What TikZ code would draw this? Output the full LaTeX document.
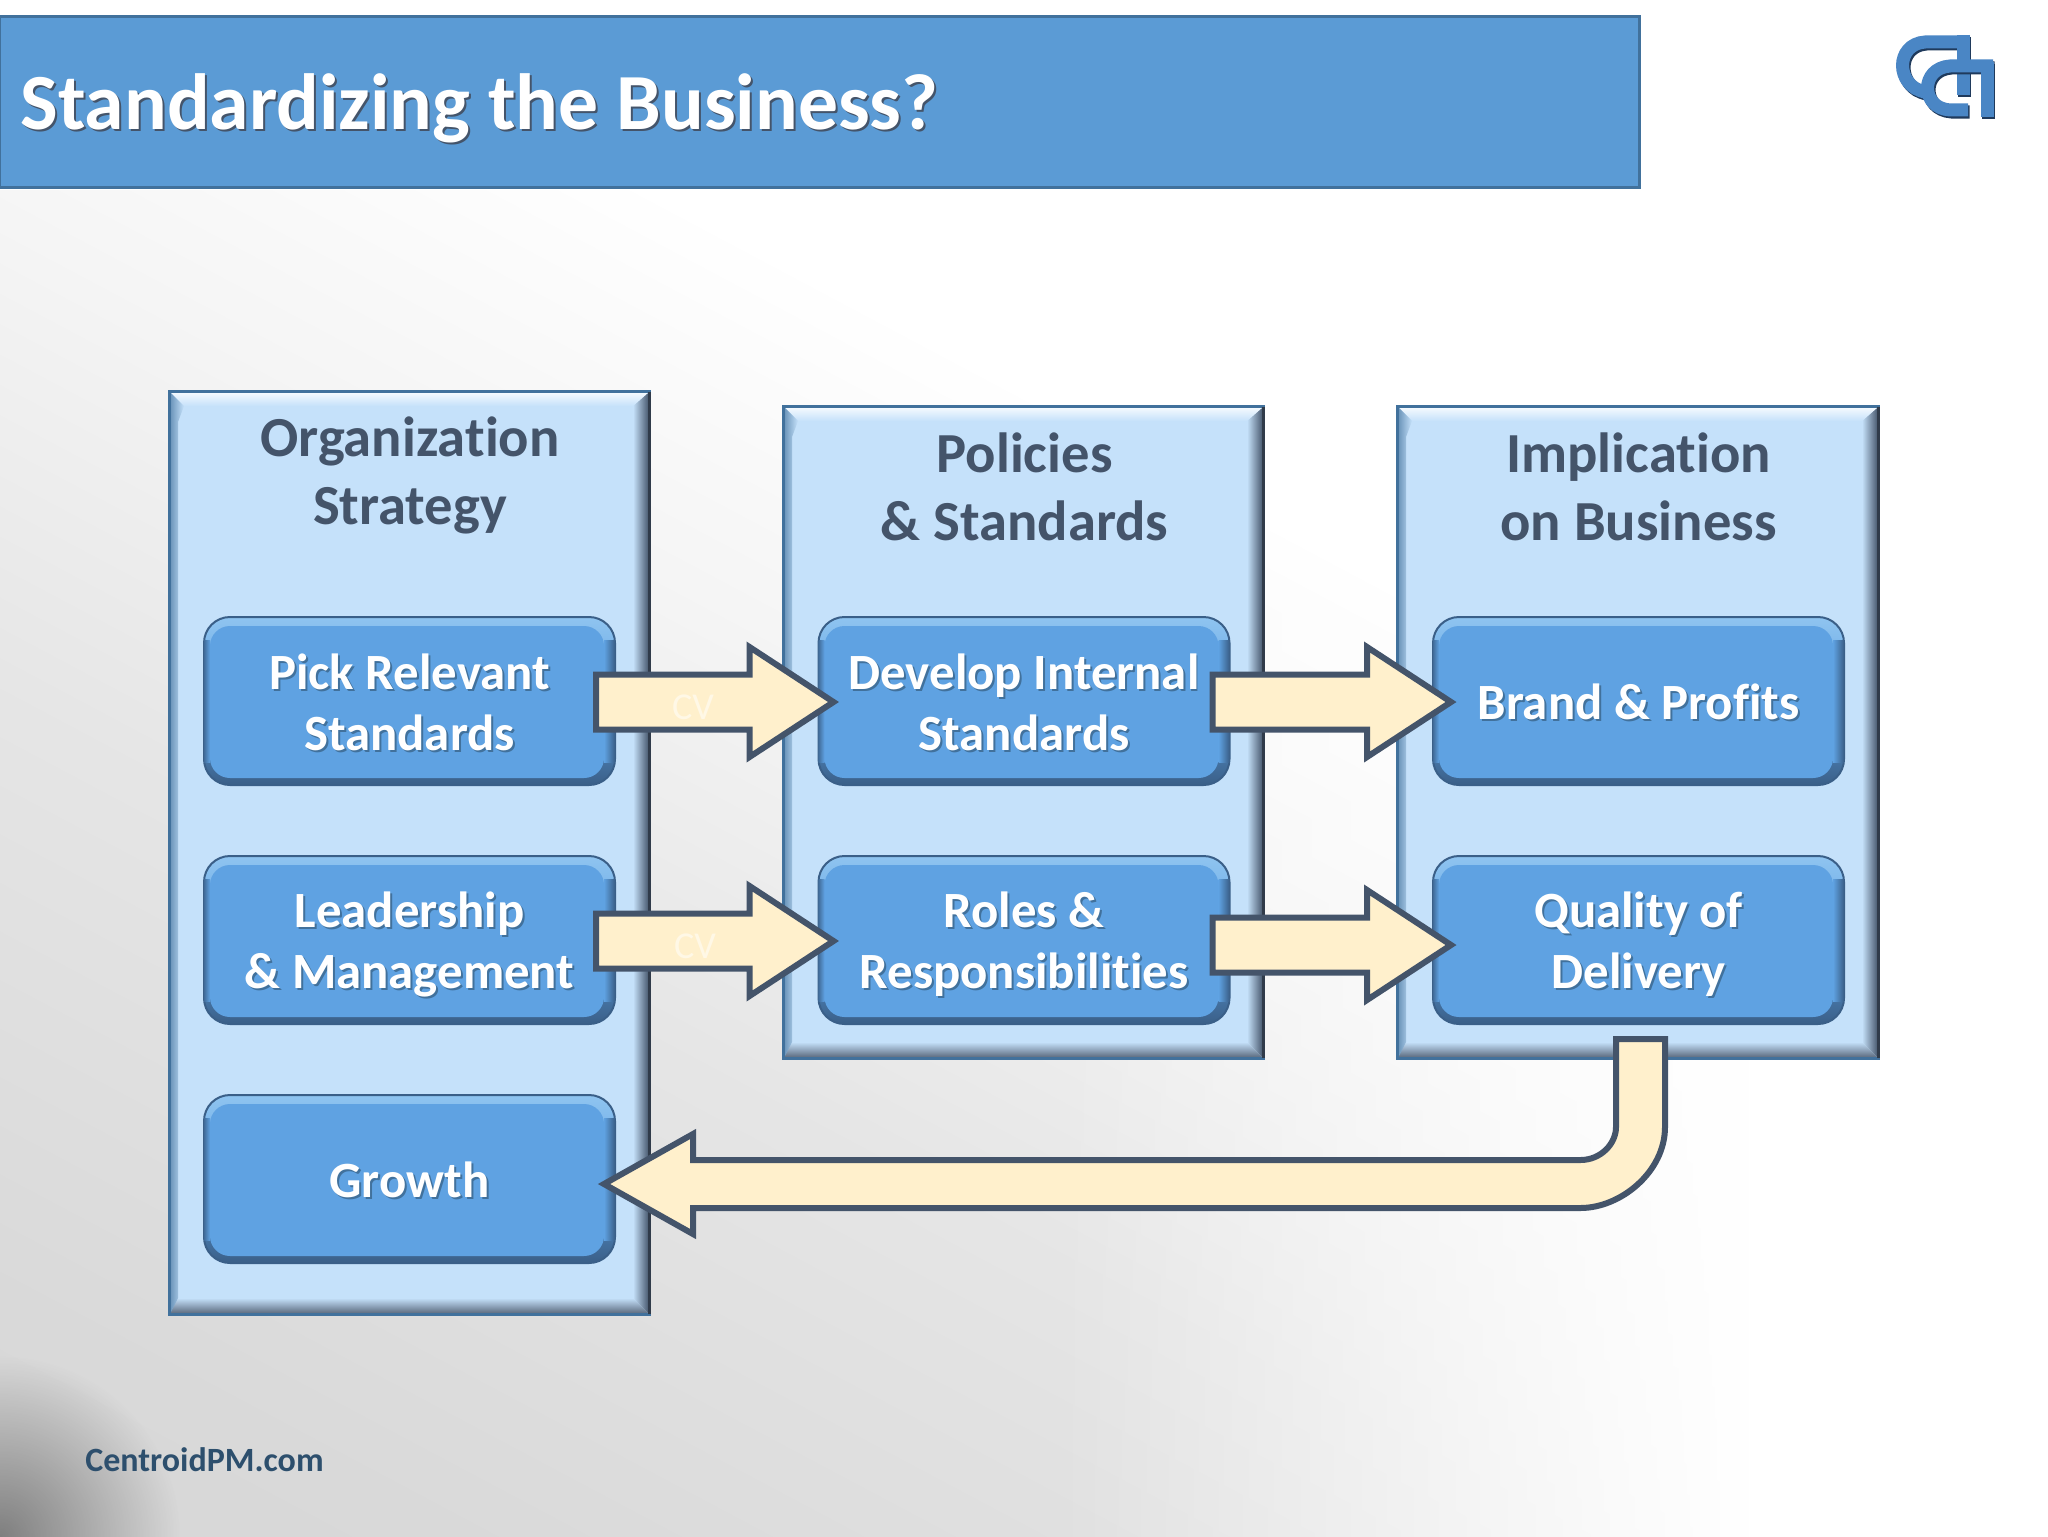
\documentclass[tikz,border=0pt]{standalone}
\usepackage{fontspec}
\setmainfont{Carlito}[Ligatures=NoCommon]
\usetikzlibrary{calc,fadings}
\definecolor{titleblue}{HTML}{5B9BD5}
\definecolor{titleedge}{HTML}{41719C}
\definecolor{slate}{HTML}{44546A}
\definecolor{panel}{HTML}{C5E1FA}
\definecolor{boxblue}{HTML}{5FA2E2}
\definecolor{boxhi}{HTML}{8FC4F0}
\definecolor{boxdark}{HTML}{3A5F88}
\definecolor{cream}{HTML}{FFF0CC}
\definecolor{cvtext}{HTML}{FFF8E6}
\definecolor{logoblue}{HTML}{4A86C5}
\definecolor{logodark}{HTML}{1F3A5C}
\pgfdeclarehorizontalshading{bgshade}{100bp}{color(0bp)=(black!17);color(22bp)=(black!15);color(38bp)=(black!10);color(50bp)=(black!4);color(60bp)=(white);color(100bp)=(white)}
\tikzfading[name=cornerfade,inner color=transparent!42,outer color=transparent!100]
\newcommand{\shtext}[2][titleedge]{\rlap{\kern1pt\raisebox{-1pt}{\textcolor{#1}{#2}}}#2}
\tikzset{
  x=0.5pt,y=-0.5pt,
  titlebar/.style={draw=titleedge,line width=1.5pt,fill=titleblue},
  boxouter/.style={rectangle,rounded corners=13pt,minimum width=205.5pt,minimum height=84pt,inner sep=0pt,draw=boxdark,line width=1pt,top color=boxhi,bottom color=boxdark,middle color=boxblue},
  boxtext/.style={font=\fontsize{25.4}{30.5}\selectfont\bfseries,text=white,align=center},
  headtext/.style={font=\fontsize{28.3}{34}\selectfont\bfseries,text=slate,align=center},
  blockarrow/.style={draw=slate,fill=cream,line width=3pt,miter limit=10},
  cvlabel/.style={font=\fontsize{19}{22}\selectfont,text=cvtext},
}
\newcommand{\panelbox}[5]{% name x1 y1 x2 y2
  \node[rectangle,minimum width=(#4-#2)*0.5pt,minimum height=(#5-#3)*0.5pt,inner sep=0pt,fill=panel] (#1) at ({(#2+#4)/2},{(#3+#5)/2}) {};
  \shade[left color=panel,right color=slate] (#4-16,#3+14)--(#4,#3)--(#4,#5)--(#4-16,#5-16)--cycle;
  \shade[top color=panel,bottom color=slate!90] (#2+7,#5-16)--(#4-16,#5-16)--(#4,#5)--(#2,#5)--cycle;
  \shade[top color=white!85!panel,bottom color=panel] (#2,#3)--(#4,#3)--(#4-16,#3+14)--(#2+14,#3+14)--cycle;
  \shade[left color=titleedge!70!panel,right color=panel] (#2,#3)--(#2+14,#3+14)--(#2+8,#3+30)--(#2+8,#5-16)--(#2,#5)--cycle;
  \draw[titleedge,line width=1.5pt] (#1.north west) rectangle (#1.south east);
  \draw[slate!70!black,line width=1.5pt] (#1.north east) -- (#1.south east);
}
\newcommand{\bluebox}[5][2.5]{% text shift, name cx cy text
  \node[boxouter] (#2) at (#3,#4) {};
  \shade[left color=boxblue,right color=boxdark] ($(#2.north east)+(-12,24)$) rectangle ($(#2.south east)+(-1,-24)$);
  \shade[left color=boxdark!80!boxblue,right color=boxblue] ($(#2.north west)+(1,24)$) rectangle ($(#2.south west)+(7,-24)$);
  \fill[boxblue,rounded corners=10pt] ($(#2.north west)+(7,10)$) rectangle ($(#2.south east)+(-12,-8)$);
  \node[boxtext] (#2t) at ($(#2)+(0,#1)$) {#5};
}
\newcommand{\blockarr}[2]{% start, tip
  \draw[blockarrow] let \p1=(#1),\p2=(#2) in
    (\x1,\y1+13.75pt) -- (\x2-42pt,\y1+13.75pt) -- (\x2-42pt,\y1+27.5pt) -- (\x2,\y1)
    -- (\x2-42pt,\y1-27.5pt) -- (\x2-42pt,\y1-13.75pt) -- (\x1,\y1-13.75pt) -- cycle;
}
\begin{document}
\begin{tikzpicture}
\useasboundingbox (0,0) rectangle (2048,1536);
% background
\begin{scope}
\clip (0,0) rectangle (2048,1536);
\shade[shading=bgshade,shading angle=62] (0,0) rectangle (2048,1536);
\fill[white,path fading=west] (1050,190) rectangle (1750,1550);
\fill[white] (1749,190) rectangle (2060,1550);
\fill[white] (0,0) rectangle (2048,190);
\end{scope}
\begin{scope}
\clip (0,1240) rectangle (240,1536);
\fill[black!75,path fading=cornerfade] (0,1536) circle[radius=90pt];
\end{scope}
% title
\node[rectangle,titlebar,minimum width=820pt,minimum height=85.5pt,inner sep=0pt] (title) at (819,102) {};
\node[anchor=west,inner sep=0pt,font=\fontsize{39.8}{44}\selectfont\bfseries,text=white] (titletext) at (20,109) {\shtext[slate]{Standardizing the Business?}};
% logo
\begin{scope}[line width=6.5pt,line cap=butt]
  \draw[logodark,shift={(1.5,2)}] (1968,42) -- (1925,42) .. controls (1895,44) and (1895,86) .. (1925,92);
  \draw[logodark,shift={(1.5,2)}] (1963,35) -- (1963,95);
  \draw[logoblue] (1968,42) -- (1925,42) .. controls (1895,44) and (1895,86) .. (1925,92);
  \draw[logoblue] (1963,35) -- (1963,95);
  \draw[logodark,shift={(1.5,2)}] (1993,66) -- (1950,66) .. controls (1920,68) and (1920,108) .. (1950,110) -- (1968,110);
  \draw[logodark,shift={(1.5,2)}] (1987,62) -- (1987,117);
  \draw[logoblue] (1993,66) -- (1950,66) .. controls (1920,68) and (1920,108) .. (1950,110) -- (1968,110);
  \draw[logoblue] (1987,62) -- (1987,117);
\end{scope}
% panels
\panelbox{colA}{170}{392}{649}{1314}
\panelbox{colB}{784}{407}{1263}{1058}
\panelbox{colC}{1398}{407}{1878}{1058}
\node[headtext] (headA) at (410,475) {Organization\\Strategy};
\node[headtext] (headB) at (1024.5,487) {Policies\\\& Standards};
\node[headtext] (headC) at (1638.5,487) {Implication\\on Business};
% boxes
\bluebox{pick}{409.5}{701}{\shtext{Pick Relevant}\\\shtext{Standards}}
\bluebox[5]{lead}{409.5}{940}{\shtext{Leadership}\\\shtext{\& Management}}
\bluebox[1.5]{growth}{409.5}{1179}{\shtext{Growth}}
\bluebox{dev}{1024}{701}{\shtext{Develop Internal}\\\shtext{Standards}}
\bluebox[5]{roles}{1024}{940}{\shtext{Roles \&}\\\shtext{Responsibilities}}
\bluebox[1.5]{brand}{1638.5}{701}{\shtext{Brand \& Profits}}
\bluebox[5]{qual}{1638.5}{940}{\shtext{Quality of}\\\shtext{Delivery}}
% arrows
\blockarr{$(pick.east)+(-20,1)$}{$(dev.west)+(16,1)$}
\blockarr{$(lead.east)+(-20,1)$}{$(roles.west)+(16,1)$}
\blockarr{$(dev.east)+(-18,1)$}{$(brand.west)+(19,1)$}
\blockarr{$(roles.east)+(-18,5)$}{$(qual.west)+(19,5)$}
\node[cvlabel] (cvA) at (693,707) {CV};
\node[cvlabel] (cvB) at (695,946) {CV};
% return arrow
\coordinate (retstart) at ($(qual.south)+(2,14)$);
\coordinate (rettip) at ($(growth.east)+(-12,5)$);
\draw[blockarrow] let \p1=(retstart),\p2=(rettip) in
  (\x1-12.25pt,\y1) -- (\x1+12.25pt,\y1) -- (\x1+12.25pt,\y2+28.5pt)
  .. controls (\x1+12.25pt,\y2+6pt) and (\x1-10pt,\y2-12pt) .. (\x1-30pt,\y2-12pt)
  -- (\x2+44.5pt,\y2-12pt) -- (\x2+44.5pt,\y2-25pt) -- (\x2,\y2) -- (\x2+44.5pt,\y2+25pt) -- (\x2+44.5pt,\y2+12pt)
  -- (\x1-30pt,\y2+12pt) .. controls (\x1-20pt,\y2+12pt) and (\x1-12.25pt,\y2+20pt) .. (\x1-12.25pt,\y2+28.5pt) -- cycle;
% footer
\node[anchor=west,inner sep=0pt,font=\fontsize{17}{20}\selectfont\bfseries,text=titleedge!70!black] (footer) at (85,1460) {CentroidPM.com};
\end{tikzpicture}
\end{document}
